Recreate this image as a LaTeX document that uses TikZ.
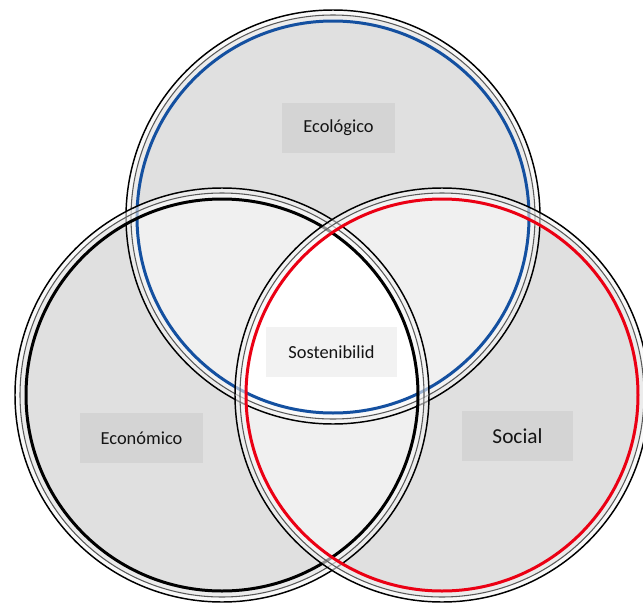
\documentclass[tikz,border=0pt]{standalone}
\usepackage{fontspec}
\setmainfont{Carlito}
\usepackage{tikz}
\definecolor{ecoblue}{RGB}{20,80,160}
\definecolor{socred}{RGB}{235,0,20}
\definecolor{txtcol}{RGB}{20,20,20}
\tikzset{single/.style={fill=black!12}}
\tikzset{pair/.style={fill=black!6}}
\tikzset{band/.style={fill=black!4,opacity=0.6,even odd rule}}
\tikzset{rim/.style={draw=black,line width=1.1pt}}
\tikzset{midrim/.style={draw=black!65,line width=0.8pt}}
\tikzset{lbl/.style={fill=black,fill opacity=0.05,text opacity=1,text=txtcol,inner sep=0pt,minimum height=37.5pt,font=\fontsize{13.8}{16}\selectfont}}

\def\Rout{155.25pt}
\def\Rmid{151.5pt}
\def\Rcol{147pt}

\begin{document}
\begin{tikzpicture}[x=0.75pt,y=-0.75pt]
    \useasboundingbox (0,0) rectangle (643,607);
    \coordinate (ceco) at (333,217);
    \coordinate (cecon) at (222,395);
    \coordinate (csoc) at (442,395);

    % regions
    \fill[single] (ceco) circle (\Rmid) (cecon) circle (\Rmid) (csoc) circle (\Rmid);
    \begin{scope}
        \clip (ceco) circle (\Rmid);
        \fill[pair] (cecon) circle (\Rmid) (csoc) circle (\Rmid);
    \end{scope}
    \begin{scope}
        \clip (cecon) circle (\Rmid);
        \fill[pair] (csoc) circle (\Rmid);
    \end{scope}
    \begin{scope}
        \clip (ceco) circle (\Rmid);
        \clip (cecon) circle (\Rmid);
        \fill[white] (csoc) circle (\Rmid);
    \end{scope}

    % rings
    \foreach \c/\col in {ceco/ecoblue, cecon/black, csoc/socred} {
        \fill[band] (\c) circle (\Rout) (\c) circle (\Rcol);
        \draw[rim] (\c) circle (\Rout);
        \draw[midrim] (\c) circle (\Rmid);
        \draw[\col, line width=2.25pt] (\c) circle (\Rcol);
    }

    \node[lbl, minimum width=84.75pt] (eco) at (338.5,128) {Ecológico};
    \node[lbl, minimum width=98.25pt] (sost) at (331.5,352) {Sostenibilid};
    \node[lbl, minimum width=92.25pt] (econ) at (141.5,438) {Económico};
    \node[lbl, minimum width=83.25pt, font=\fontsize{16}{19}\selectfont] (soc) at (517.5,436) {Social};
\end{tikzpicture}
\end{document}
